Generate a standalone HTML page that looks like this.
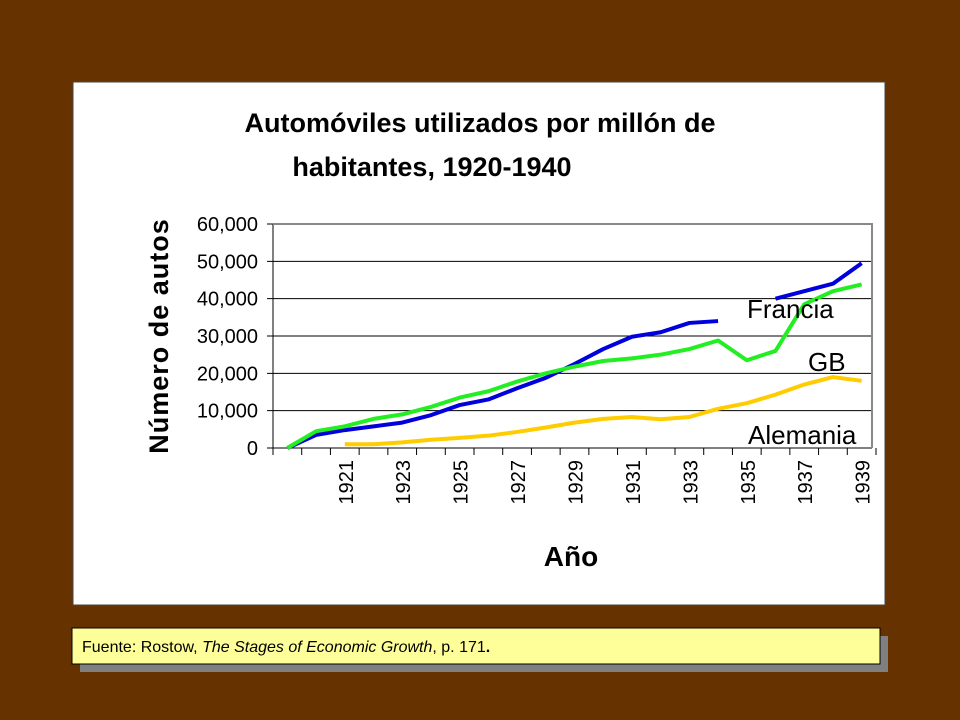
<!DOCTYPE html>
<html><head><meta charset="utf-8"><style>
html,body{margin:0;padding:0;background:#663300;}
svg{display:block;font-family:"Liberation Sans",Arial,sans-serif;}
</style></head><body>
<svg width="960" height="720" viewBox="0 0 960 720">
<rect x="0" y="0" width="960" height="720" fill="#663300"/>
<rect x="73" y="82" width="812" height="523" fill="#fff" stroke="#444" stroke-width="1"/>
<text x="480" y="132" font-size="27" font-weight="bold" text-anchor="middle">Automóviles utilizados por millón de</text>
<text x="432" y="176" font-size="27" font-weight="bold" text-anchor="middle">habitantes, 1920-1940</text>
<text transform="translate(168,336) rotate(-90)" font-size="27" font-weight="bold" text-anchor="middle" letter-spacing="1">Número de autos</text>
<text x="571" y="566" font-size="28" font-weight="bold" text-anchor="middle">Año</text>
<g id="grid"></g><g id="series"></g><g id="labels"></g>
<text x="747" y="318" font-size="26">Francia</text>
<text x="808" y="371" font-size="26">GB</text>
<text x="748" y="444" font-size="26">Alemania</text>
<rect x="80" y="636" width="808" height="36" fill="#808080"/>
<rect x="72" y="628" width="808" height="36" fill="#ffff99" stroke="#000" stroke-width="1"/>
<text x="82" y="652" font-size="16">Fuente:  Rostow, <tspan font-style="italic">The Stages of Economic Growth</tspan>, p. 171<tspan font-weight="bold">.</tspan></text>
</svg>
<script>
const years=[1919,1920,1921,1922,1923,1924,1925,1926,1927,1928,1929,1930,1931,1932,1933,1934,1935,1936,1937,1938,1939];
const yTicks=[0,10000,20000,30000,40000,50000,60000];
const usaBlue=[0,3500,4800,5800,6800,8800,11500,13000,16000,18800,22500,26500,29800,31000,33500,34000,null,40000,42000,44000,49500];
const gbGreen=[0,4500,5800,7800,9000,11000,13500,15200,17800,20000,21800,23300,24000,25000,26500,28800,23500,26000,38500,42000,43800];
const alemaniaYellow=[null,null,1000,1000,1500,2200,2700,3300,4300,5500,6800,7800,8300,7700,8300,10500,12000,14300,17000,19000,18000];
const NS='http://www.w3.org/2000/svg';
const x0=273,x1=876,yb=448,yt=224;
const bw=(x1-x0)/years.length;
function xs(i){return x0+bw*(i+0.5);}
function ys(v){return yb-(v/60000)*(yb-yt);}
function mk(t,a,p){const e=document.createElementNS(NS,t);for(const k in a)e.setAttribute(k,a[k]);p.appendChild(e);return e;}
const grid=document.getElementById('grid');
const lab=document.getElementById('labels');
yTicks.forEach(v=>{
  const l=mk('line',{x1:x0-6,x2:x1-4,y1:ys(v),y2:ys(v),stroke:'#000','stroke-width':1},grid);
  
  
  const t=mk('text',{x:258,y:ys(v)+7,'font-size':20,'text-anchor':'end'},lab);
  t.textContent=v===0?'0':v.toLocaleString('en-US');
  
  
});
const ax=mk('line',{x1:x0,x2:x0,y1:yt,y2:yb+6,stroke:'#000','stroke-width':1},grid);


const rb=mk('polyline',{points:`${x0},${yt} ${x1-4},${yt} ${x1-4},${yb}`,fill:'none',stroke:'#888','stroke-width':2},grid);


for(let i=0;i<=years.length;i++){
  const tk=mk('line',{x1:x0+bw*i,x2:x0+bw*i,y1:yb,y2:yb+7,stroke:'#000','stroke-width':1},grid);
  
  
}
years.forEach((y,i)=>{
  if(y%2===1&&y>=1921){
    const t=mk('text',{transform:`translate(${xs(i)+8},460) rotate(-90)`,'font-size':20,'text-anchor':'end'},lab);
    t.textContent=y;
    
    
  }
});
const ser=document.getElementById('series');
function draw(arr,color,name){
  let segs=[],cur=[];
  arr.forEach((v,i)=>{if(v===null){if(cur.length)segs.push(cur);cur=[];}else cur.push(xs(i)+','+ys(v));});
  if(cur.length)segs.push(cur);
  segs.forEach(s=>{
    const p=mk('polyline',{points:s.join(' '),fill:'none',stroke:color,'stroke-width':4,'stroke-linejoin':'round'},ser);
    
    
  });
}
draw(alemaniaYellow,'#ffcc00','series-alemania');
draw(usaBlue,'#0000dd','series-blue');
draw(gbGreen,'#22ee22','series-green');
</script>
</body></html>
